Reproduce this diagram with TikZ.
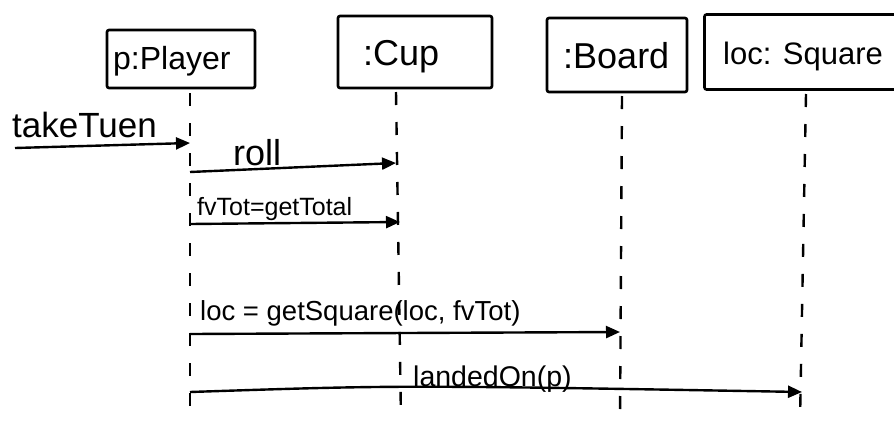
\documentclass[tikz,border=0pt]{standalone}
\usepackage{fontspec}
\setmainfont{Liberation Sans}
\usetikzlibrary{arrows.meta}
\begin{document}
\begin{tikzpicture}[x=1pt,y=-1pt,
  objbox/.style={draw, line width=2.6pt, inner sep=0pt, rounded corners=2pt},
  lifeline/.style={line width=2.4pt, dash pattern=on 13pt off 17pt},
  msg/.style={line width=2.4pt, -{Triangle[length=14pt,width=12pt]}},
  lbl/.style={inner sep=0pt, anchor=base west}]
\useasboundingbox (0,0) rectangle (894,421);
\clip (0,0) rectangle (894,421);
\fill[white] (0,0) rectangle (894,421);

% objects
\node[objbox, minimum width=148pt, minimum height=58pt] (player) at (181,59) {};
\node[lbl, font=\fontsize{32}{36}\selectfont] (playerT) at (113,69) {p:Player};
\node[objbox, minimum width=154pt, minimum height=72pt] (cup) at (415,52) {};
\node[lbl, font=\fontsize{36}{40}\selectfont] (cupT) at (363,65) {:Cup};
\node[objbox, minimum width=140pt, minimum height=74pt] (board) at (617,55) {};
\node[lbl, font=\fontsize{36}{40}\selectfont] (boardT) at (563,68) {:Board};
\node[objbox, minimum width=205pt, minimum height=75pt] (square) at (807,52) {};
\node[lbl, font=\fontsize{31}{35}\selectfont] (squareT) at (723,64) {loc: Square};

% lifelines
\coordinate (pTop) at (190,93);   \coordinate (pBot) at (190,421);
\coordinate (cTop) at (396,92);   \coordinate (cBot) at (401,421);
\coordinate (bTop) at (622,96);   \coordinate (bBot) at (620,421);
\coordinate (sTop) at (806,94);   \coordinate (sBot) at (800,421);
\draw[lifeline] (pTop) -- (pBot);
\draw[lifeline] (cTop) -- (cBot);
\draw[lifeline] (bTop) -- (bBot);
\draw[lifeline] (sTop) -- (sBot);

% message end points
\coordinate (m0s) at (15,148);  \coordinate (m0e) at (190,143);
\coordinate (m1s) at (190,172); \coordinate (m1e) at (396,163);
\coordinate (m2s) at (190,224); \coordinate (m2e) at (400,222);
\coordinate (m3s) at (190,334); \coordinate (m3e) at (620,332);
\coordinate (m4s) at (190,392); \coordinate (m4e) at (802,392);

% messages
\draw[msg] (m0s) -- (m0e);
\node[lbl, font=\fontsize{35}{39}\selectfont] (l0) at (12,137) {takeTuen};
\draw[msg] (m1s) -- (m1e);
\node[lbl, font=\fontsize{36}{40}\selectfont] (l1) at (233,165) {roll};
\draw[msg] (m2s) -- (m2e);
\node[lbl, font=\fontsize{25}{29}\selectfont] (l2) at (197,215) {fvTot=getTotal};
\draw[msg] (m3s) -- (m3e);
\node[lbl, font=\fontsize{27.5}{31}\selectfont] (l3) at (200,320) {loc = getSquare(loc, fvTot)};
\draw[msg] (m4s) .. controls (400,385) .. (m4e);
\node[lbl, font=\fontsize{28.5}{32}\selectfont] (l4) at (413,386) {landedOn(p)};
\end{tikzpicture}
\end{document}
